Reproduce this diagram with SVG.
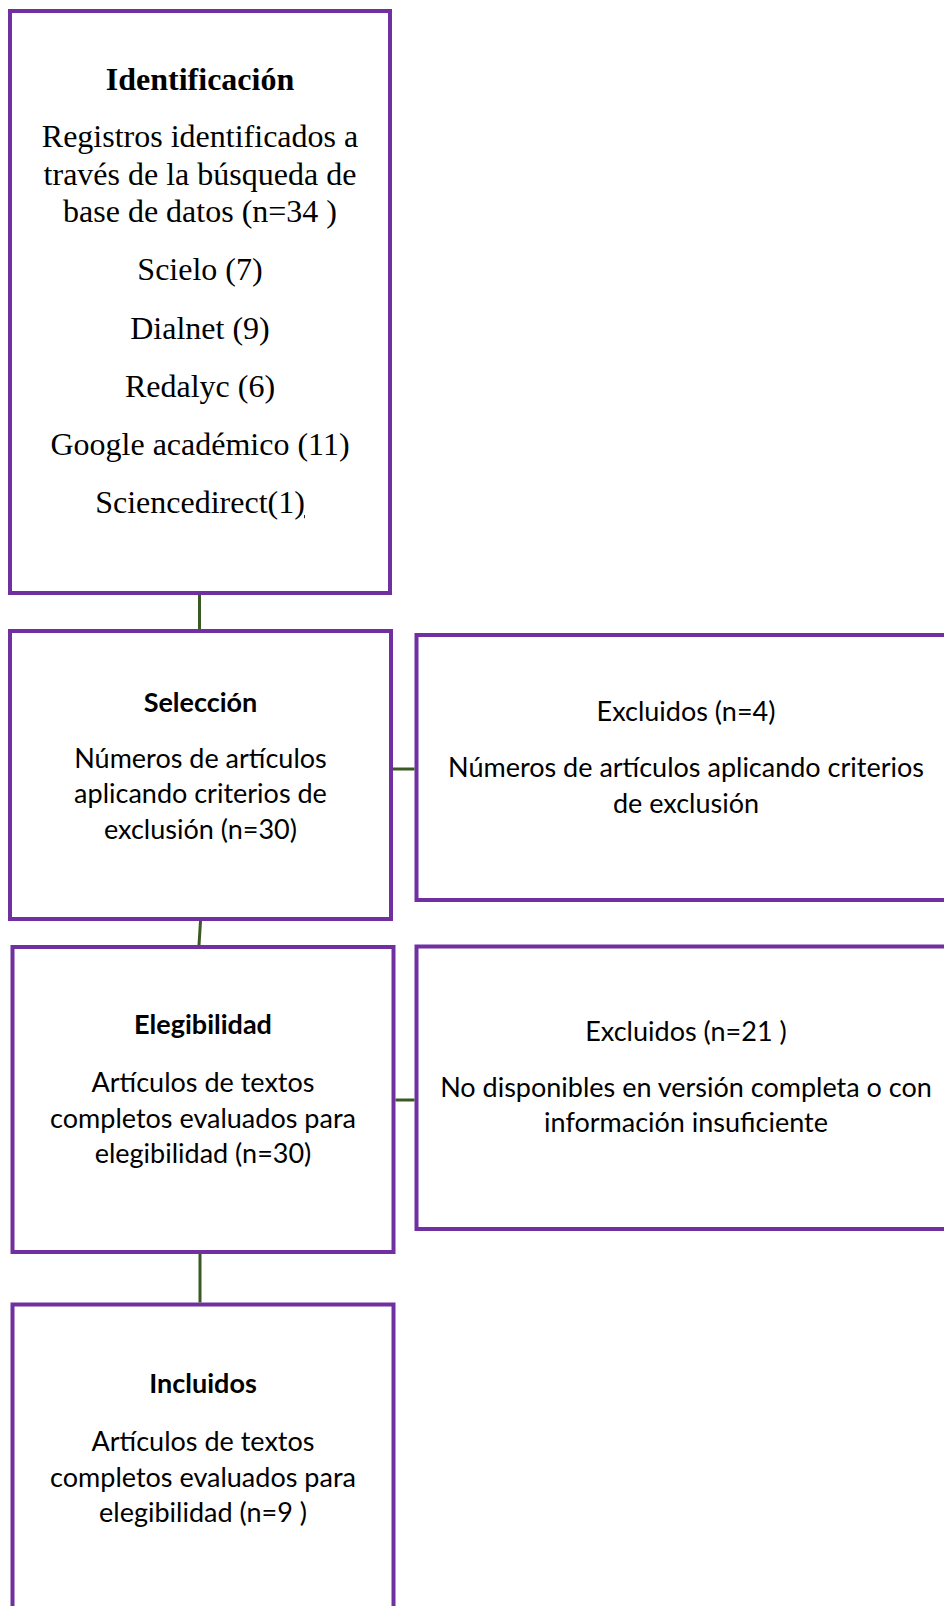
<svg xmlns="http://www.w3.org/2000/svg" width="944" height="1606" viewBox="0 0 944 1606">
<style>
.box{fill:#ffffff;stroke:#7030A0;stroke-width:4}
.conn{stroke:#3B5A23;stroke-width:3;fill:none}
.serif{font-family:"Liberation Serif","Times New Roman",serif;font-size:32px;fill:#000;text-anchor:middle}
.sans{font-family:Lato,"Open Sans",sans-serif;font-size:27px;fill:#000;text-anchor:middle}
.b{font-weight:bold}
</style>
<rect width="944" height="1606" fill="#ffffff"/>
<g id="identificacion">
<rect class="box" x="10" y="11" width="380" height="582"/>
<text class="serif b" x="200" y="90">Identificación</text>
<text class="serif" x="200" y="147">Registros identificados a</text>
<text class="serif" x="200" y="185">través de la búsqueda de</text>
<text class="serif" x="200" y="222">base de datos (n=34 )</text>
<text class="serif" x="200" y="280">Scielo (7)</text>
<text class="serif" x="200" y="339">Dialnet (9)</text>
<text class="serif" x="200" y="397">Redalyc (6)</text>
<text class="serif" x="200" y="455">Google académico (11)</text>
<text class="serif" x="200" y="513">Sciencedirect(1<tspan text-decoration="underline">)</tspan></text>
</g>
<g id="seleccion">
<rect class="box" x="10" y="631" width="381" height="288"/>
<text class="sans b" x="200.5" y="712">Selección</text>
<text class="sans" x="200.5" y="768">Números de artículos</text>
<text class="sans" x="200.5" y="803">aplicando criterios de</text>
<text class="sans" x="200.5" y="839">exclusión (n=30)</text>
</g>
<g id="excluidos1">
<rect class="box" x="416.5" y="635" width="545" height="265"/>
<text class="sans" x="686" y="721">Excluidos (n=4)</text>
<text class="sans" x="686" y="777">Números de artículos aplicando criterios</text>
<text class="sans" x="686" y="813">de exclusión</text>
</g>
<g id="elegibilidad">
<rect class="box" x="12.5" y="947" width="381" height="305"/>
<text class="sans b" x="203" y="1034">Elegibilidad</text>
<text class="sans" x="203" y="1092">Artículos de textos</text>
<text class="sans" x="203" y="1128">completos evaluados para</text>
<text class="sans" x="203" y="1163">elegibilidad (n=30)</text>
</g>
<g id="excluidos2">
<rect class="box" x="416.5" y="946.5" width="545" height="282.5"/>
<text class="sans" x="686" y="1041">Excluidos (n=21 )</text>
<text class="sans" x="686" y="1097">No disponibles en versión completa o con</text>
<text class="sans" x="686" y="1132">información insuficiente</text>
</g>
<g id="incluidos">
<rect class="box" x="12.5" y="1304.5" width="381" height="400"/>
<text class="sans b" x="203" y="1393">Incluidos</text>
<text class="sans" x="203" y="1451">Artículos de textos</text>
<text class="sans" x="203" y="1487">completos evaluados para</text>
<text class="sans" x="203" y="1522">elegibilidad (n=9 )</text>
</g>
<g id="connectors">
<line class="conn" x1="199.5" y1="595" x2="199.5" y2="629"/>
<line class="conn" x1="393" y1="769" x2="414.5" y2="769"/>
<line class="conn" x1="200.5" y1="921" x2="199" y2="945"/>
<line class="conn" x1="395.5" y1="1100" x2="414.5" y2="1100"/>
<line class="conn" x1="200" y1="1254" x2="200" y2="1302.5"/>
</g>
</svg>
